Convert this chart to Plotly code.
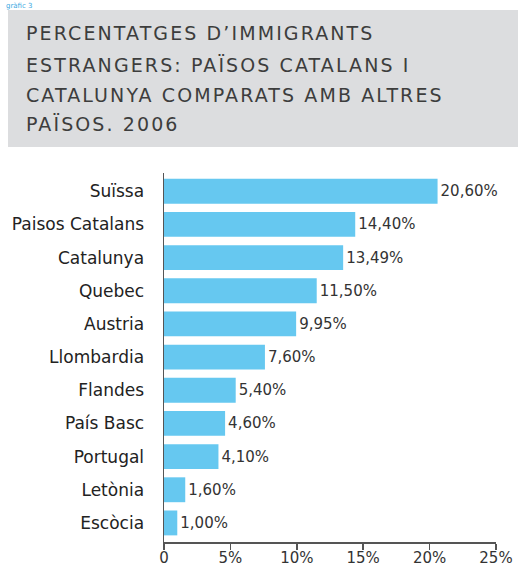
import plotly.graph_objects as go

categories = ["Suïssa", "Paisos Catalans", "Catalunya", "Quebec", "Austria", "Llombardia",
              "Flandes", "País Basc", "Portugal", "Letònia", "Escòcia"]
values = [20.60, 14.40, 13.49, 11.50, 9.95, 7.60, 5.40, 4.60, 4.10, 1.60, 1.00]
value_labels = ["20,60%", "14,40%", "13,49%", "11,50%", "9,95%", "7,60%", "5,40%",
                "4,60%", "4,10%", "1,60%", "1,00%"]
tick_vals = [0, 5, 10, 15, 20, 25]
tick_text = ["0", "5%", "10%", "15%", "20%", "25%"]
title_lines = ["PERCENTATGES D’IMMIGRANTS", "ESTRANGERS: PAÏSOS CATALANS I",
               "CATALUNYA COMPARATS AMB ALTRES", "PAÏSOS. 2006"]

cats = categories[::-1]
vals = values[::-1]
labs = value_labels[::-1]

W, H = 518, 566
L, R, T, B = 164, 22, 173, 24
pw, ph = W - L - R, H - T - B

def px(x):
    return (x - L) / pw

def py(y):
    return (H - B - y) / ph

fig = go.Figure(go.Bar(
    x=vals, y=cats, orientation="h",
    marker=dict(color="#66c8f0", line=dict(width=0)),
    width=0.75,
    text=labs, textposition="outside", cliponaxis=False,
    textfont=dict(family="DejaVu Sans", size=15, color="#333333"),
    hoverinfo="skip",
))

fig.update_layout(
    width=W, height=H,
    margin=dict(l=L, r=R, t=T, b=B, autoexpand=False),
    paper_bgcolor="white", plot_bgcolor="white",
    showlegend=False,
    xaxis=dict(range=[0, 25], tickvals=tick_vals, ticktext=tick_text,
               showgrid=False, zeroline=False, showline=True, linecolor="#555555", linewidth=1.5,
               ticks="outside", ticklen=6, tickcolor="#555555", tickwidth=1.5,
               ticklabelstandoff=-5,
               tickfont=dict(family="DejaVu Sans", size=15, color="#333333"),
               automargin=False),
    yaxis=dict(range=[-0.575, 10.55], showgrid=False, zeroline=False, showline=True,
               linecolor="#555555", linewidth=1.5, ticks="", ticklabelstandoff=15,
               tickfont=dict(family="DejaVu Sans", size=17, color="#222222"),
               automargin=False),
)

fig.add_shape(type="rect", xref="paper", yref="paper",
              x0=px(8), x1=px(518), y0=py(147), y1=py(10),
              fillcolor="#dcdddf", line=dict(width=0), layer="below")

centers = [33, 65, 95, 124]
for line, cy in zip(title_lines, centers):
    fig.add_annotation(text=line, xref="paper", yref="paper", x=px(24), y=py(cy),
                       xanchor="left", yanchor="middle", showarrow=False,
                       font=dict(family="DejaVu Sans", size=19, color="#3d3d3d"))

fig.add_annotation(text="gràfic 3", xref="paper", yref="paper", x=px(4), y=py(0.5),
                   xanchor="left", yanchor="top", showarrow=False,
                   font=dict(family="DejaVu Sans", size=7, color="#3aa9df"))

post = """
document.body.style.margin = '0';
document.body.style.overflow = 'hidden';
document.querySelectorAll('g.annotation').forEach(function(g){
  var i = parseInt(g.getAttribute('data-index'));
  if (i < 4) {
    var t = g.querySelector('text.annotation-text');
    if (t) {
      var bb = t.getBBox();
      t.setAttribute('text-anchor', 'start');
      t.setAttribute('x', bb.x);
      t.style.letterSpacing = '2.1px';
    }
  }
});
"""

fig.write_html("out.html", post_script=post, config={"displayModeBar": False, "staticPlot": True})
